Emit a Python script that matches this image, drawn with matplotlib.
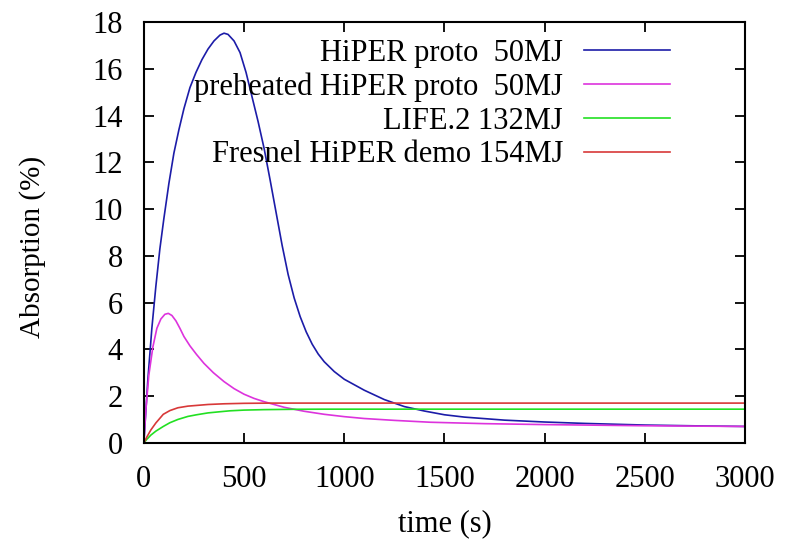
import matplotlib
matplotlib.use("Agg")
import matplotlib.pyplot as plt

# data (time in s, absorption in %)
t_proto = [0, 20, 40, 60, 80, 100, 125, 150, 175, 200, 230, 260, 290, 320,
           350, 380, 400, 420, 450, 480, 510, 540, 570, 600, 630, 660, 690,
           720, 750, 780, 810, 840, 870, 900, 950, 1000, 1100, 1200, 1300,
           1400, 1500, 1600, 1800, 2000, 2200, 2500, 2800, 3000]
a_proto = [0, 2.7, 4.9, 6.7, 8.3, 9.6, 11.1, 12.4, 13.4, 14.3, 15.2, 15.85,
           16.4, 16.85, 17.2, 17.45, 17.53, 17.48, 17.2, 16.7, 15.85, 14.8,
           13.75, 12.6, 11.25, 9.85, 8.45, 7.2, 6.2, 5.4, 4.75, 4.22, 3.8,
           3.47, 3.05, 2.72, 2.25, 1.85, 1.55, 1.36, 1.2, 1.1, 0.97, 0.89,
           0.83, 0.76, 0.72, 0.70]

t_pre = [0, 10, 25, 45, 65, 85, 105, 122, 140, 160, 180, 200, 230, 263, 300,
         347, 400, 450, 500, 550, 600, 700, 800, 900, 1000, 1100, 1250, 1430,
         1700, 2000, 2500, 3000]
a_pre = [0, 1.4, 2.9, 4.1, 4.9, 5.3, 5.5, 5.54, 5.45, 5.22, 4.9, 4.55, 4.15,
         3.78, 3.4, 3.0, 2.62, 2.32, 2.08, 1.9, 1.76, 1.52, 1.35, 1.22, 1.12,
         1.04, 0.96, 0.88, 0.82, 0.78, 0.73, 0.70]

t_life = [0, 15, 35, 60, 97, 130, 170, 220, 263, 320, 380, 430, 500, 600,
          750, 900, 3000]
a_life = [0, 0.15, 0.33, 0.5, 0.70, 0.86, 1.0, 1.13, 1.2, 1.28, 1.33, 1.37,
          1.40, 1.42, 1.435, 1.44, 1.44]

t_fresnel = [0, 15, 35, 60, 97, 130, 170, 220, 263, 320, 400, 500, 650, 3000]
a_fresnel = [0, 0.25, 0.55, 0.85, 1.22, 1.38, 1.5, 1.57, 1.6, 1.64, 1.67,
             1.69, 1.70, 1.70]

labels = ["HiPER proto  50MJ", "preheated HiPER proto  50MJ",
          "LIFE.2 132MJ", "Fresnel HiPER demo 154MJ"]
colors = ["#1c1ca8", "#dd33dd", "#22e022", "#d83838"]

plt.rcParams["font.family"] = ["Liberation Serif", "DejaVu Serif"]

fig = plt.figure(figsize=(7.86, 5.42), dpi=100)
ax = fig.add_axes([0.183, 0.183, 0.765, 0.776])

series = [(t_proto, a_proto), (t_pre, a_pre), (t_life, a_life), (t_fresnel, a_fresnel)]
for (t, a), lab, c in zip(series, labels, colors):
    ax.plot(t, a, color=c, lw=1.2, label=lab)

ax.set_xlim(0, 3000)
ax.set_ylim(0, 18)
ax.set_xticks(range(0, 3001, 500))
ax.set_yticks(range(0, 19, 2))
ax.tick_params(direction="in", length=7, width=1.3, top=True, right=True,
               labelsize=22)
ax.tick_params(axis="x", pad=16)
ax.tick_params(axis="y", pad=15)
for s in ax.spines.values():
    s.set_linewidth(1.5)

ax.set_xlabel("time (s)", fontsize=22, labelpad=11)
ax.set_ylabel("Absorption (%)", fontsize=21)
ax.yaxis.set_label_coords(-0.163, 0.465)

ax.legend(loc="upper right", bbox_to_anchor=(0.875, 0.96), frameon=False,
          markerfirst=False, fontsize=22, handlelength=2.8, handletextpad=0.7,
          labelspacing=0.15, borderpad=0, borderaxespad=0)

fig.savefig("out.png", dpi=100)
